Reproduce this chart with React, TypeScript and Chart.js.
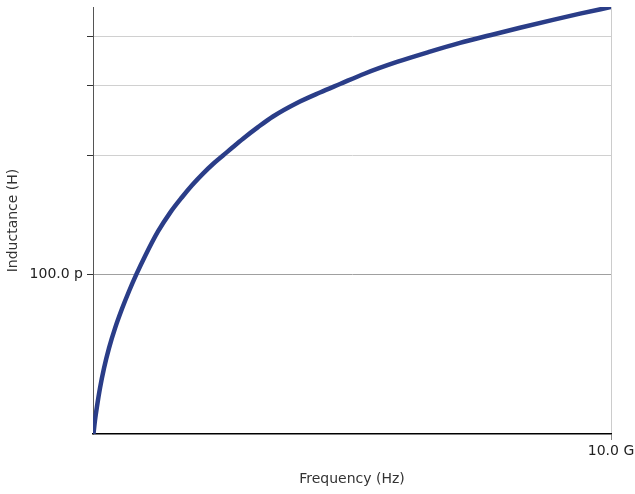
import React, { useEffect, useRef } from "react";
import { Chart, registerables } from "chart.js";

Chart.register(...registerables);

// Frequency in GHz
const frequencyGHz = [
  0.005, 0.0386, 0.0772, 0.1351, 0.2124, 0.3089, 0.4247, 0.5598, 0.695, 0.8301,
  1.0039, 1.2548, 1.4865, 1.7181, 1.9112, 2.1236, 2.3166, 2.5097, 2.7027,
  2.8958, 3.1853, 3.4749, 3.9382, 4.3822, 4.7683, 5.251, 5.8687, 6.5058,
  7.0849, 7.6641, 8.2432, 8.8803, 9.4015, 10.0,
];
// Inductance in pH
const inductancePH = [
  39.0, 42.7, 46.3, 51.5, 57.8, 65.0, 72.9, 81.7, 90.5, 99.4, 111.0, 128.2,
  142.9, 156.5, 167.8, 179.6, 189.9, 199.5, 209.7, 220.1, 235.4, 250.5, 271.0,
  288.1, 302.7, 321.8, 344.1, 365.4, 384.5, 402.1, 420.1, 439.9, 456.0, 474.0,
];

const xTicks = [1e10];
const xTickLabels = ["10.0 G"];
const yTicks = [1e-10, 2e-10, 3e-10, 4e-10];
const yTickLabels = ["100.0 p", "", "", ""];

const X_MIN = 0;
const X_MAX = 1e10;
const Y_MIN = 3.94e-11;
const Y_MAX = 4.74e-10;

export default function App() {
  const ref = useRef<HTMLCanvasElement | null>(null);

  useEffect(() => {
    if (!ref.current) return;
    const points = frequencyGHz.map((f, i) => ({
      x: f * 1e9,
      y: inductancePH[i] * 1e-12,
    }));
    const font = { family: "DejaVu Sans", size: 14 };
    const chart = new Chart(ref.current, {
      type: "line",
      data: {
        datasets: [
          {
            data: points,
            borderColor: "#2a3d88",
            borderWidth: 4.5,
            pointRadius: 0,
            cubicInterpolationMode: "monotone",
            fill: false,
          },
        ],
      },
      options: {
        responsive: false,
        animation: false,
        layout: { padding: { top: 7, left: 0, right: 0, bottom: 0 } },
        plugins: { legend: { display: false }, tooltip: { enabled: false } },
        scales: {
          x: {
            type: "linear",
            min: X_MIN,
            max: X_MAX,
            afterBuildTicks: (s: any) => {
              s.ticks = xTicks.map((v) => ({ value: v }));
            },
            afterFit: (s: any) => {
              s.height = 60;
              s.paddingLeft = 0;
              s.paddingRight = 24;
            },
            ticks: {
              autoSkip: false,
              maxRotation: 0,
              padding: 3,
              color: "#222",
              font,
              callback: (v: any) => {
                const i = xTicks.indexOf(Number(v));
                return i >= 0 ? xTickLabels[i] : "";
              },
            },
            grid: {
              color: "#cccccc",
              tickColor: "#888",
              tickLength: 6,
              drawOnChartArea: true,
            },
            border: { display: true, color: "#000", width: 1.5 },
            title: {
              display: true,
              text: "Frequency (Hz)",
              color: "#333",
              font,
              padding: { top: 0, bottom: 6 },
            },
          },
          y: {
            type: "logarithmic",
            min: Y_MIN,
            max: Y_MAX,
            afterBuildTicks: (s: any) => {
              s.ticks = yTicks.map((v) => ({ value: v }));
            },
            afterFit: (s: any) => {
              s.width = 93;
              s.paddingTop = 0;
              s.paddingBottom = 0;
            },
            ticks: {
              autoSkip: false,
              padding: 4,
              color: "#222",
              font,
              callback: (v: any) => {
                const i = yTicks.findIndex(
                  (t) => Math.abs(t - Number(v)) / t < 1e-6
                );
                return i >= 0 ? yTickLabels[i] : "";
              },
            },
            grid: {
              color: (ctx: any) =>
                ctx.tick && Math.abs(ctx.tick.value - 1e-10) < 1e-15
                  ? "#a0a0a0"
                  : "#d0d0d0",
              tickColor: "#333",
              tickLength: 6,
            },
            border: { display: true, color: "#555", width: 1 },
            title: {
              display: true,
              text: "Inductance (H)",
              color: "#333",
              font,
              padding: { top: 5, bottom: 0 },
            },
          },
        },
      },
    } as any);
    return () => chart.destroy();
  }, []);

  return (
    <div style={{ position: "fixed", left: 0, top: 0, width: 635, height: 494, background: "#fff" }}>
      <canvas ref={ref} width={635} height={494} />
    </div>
  );
}
